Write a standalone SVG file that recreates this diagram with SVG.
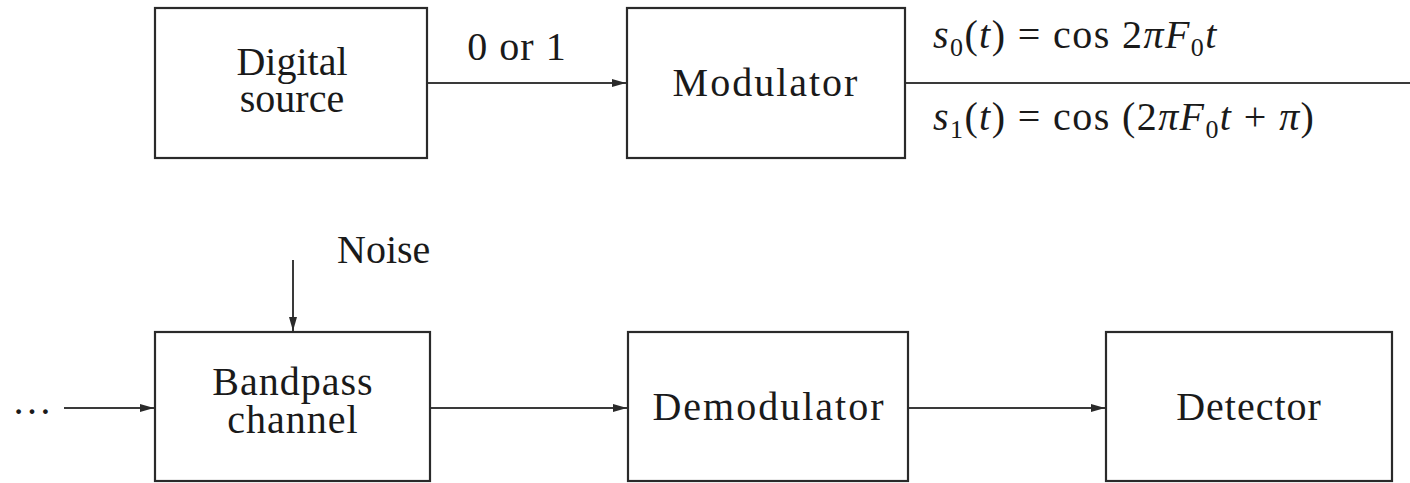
<svg xmlns="http://www.w3.org/2000/svg" width="1410" height="483" viewBox="0 0 1410 483">
  <style>
    .box { fill: #ffffff; stroke: #2a2a2a; stroke-width: 2.2; }
    .wire { fill: none; stroke: #3a3a3a; stroke-width: 2; }
    .lbl { font-family: "Liberation Serif", "DejaVu Serif", serif; font-size: 40px; fill: #1a1a1a; }
    .c { text-anchor: middle; }
    .wide { letter-spacing: 2px; }
    .mid { letter-spacing: 1px; }
    .math { letter-spacing: 1.4px; }
    .it { font-style: italic; }
    .sub { font-size: 26px; }
  </style>
  <defs>
    <marker id="arrow" viewBox="0 0 14 8" refX="14" refY="4" markerWidth="14" markerHeight="8" markerUnits="userSpaceOnUse" orient="auto">
      <path d="M0,0 L14,4 L0,8 Z" fill="#2a2a2a"/>
    </marker>
  </defs>
  <rect width="1410" height="483" fill="#ffffff"/>

  <!-- connectors -->
  <g id="connectors">
    <line class="wire" x1="427" y1="83" x2="626" y2="83" marker-end="url(#arrow)"/>
    <line class="wire" x1="905" y1="83" x2="1410" y2="83"/>
    <line class="wire" x1="293" y1="260" x2="293" y2="331" marker-end="url(#arrow)"/>
    <line class="wire" x1="64" y1="408" x2="154" y2="408" marker-end="url(#arrow)"/>
    <line class="wire" x1="430" y1="408" x2="627" y2="408" marker-end="url(#arrow)"/>
    <line class="wire" x1="908" y1="408" x2="1105" y2="408" marker-end="url(#arrow)"/>
  </g>

  <!-- connector labels -->
  <g id="labels">
    <text class="lbl c mid" x="517" y="60">0 or 1</text>
    <text class="lbl math" x="933" y="48"><tspan class="it">s</tspan><tspan class="sub" dy="8">0</tspan><tspan dy="-8">(</tspan><tspan class="it">t</tspan>) = cos 2<tspan class="it">πF</tspan><tspan class="sub" dy="8">0</tspan><tspan class="it" dy="-8">t</tspan></text>
    <text class="lbl math" x="933" y="130"><tspan class="it">s</tspan><tspan class="sub" dy="8">1</tspan><tspan dy="-8">(</tspan><tspan class="it">t</tspan>) = cos (2<tspan class="it">πF</tspan><tspan class="sub" dy="8">0</tspan><tspan class="it" dy="-8">t</tspan> + <tspan class="it">π</tspan>)</text>
    <text class="lbl" x="337" y="263">Noise</text>
    <text class="lbl" x="12" y="414">…</text>
  </g>

  <g id="digital-source">
    <rect class="box" x="155" y="8" width="272" height="150"/>
    <text class="lbl c" x="292" y="75">Digital</text>
    <text class="lbl c" x="292" y="112">source</text>
  </g>

  <g id="modulator">
    <rect class="box" x="627" y="8" width="278" height="150"/>
    <text class="lbl c wide" x="766" y="96">Modulator</text>
  </g>

  <g id="bandpass-channel">
    <rect class="box" x="155" y="332" width="275" height="149"/>
    <text class="lbl c mid" x="293" y="395">Bandpass</text>
    <text class="lbl c mid" x="293" y="433">channel</text>
  </g>

  <g id="demodulator">
    <rect class="box" x="628" y="332" width="280" height="149"/>
    <text class="lbl c wide" x="769" y="420">Demodulator</text>
  </g>

  <g id="detector">
    <rect class="box" x="1106" y="332" width="286" height="149"/>
    <text class="lbl c mid" x="1249" y="420">Detector</text>
  </g>
</svg>
